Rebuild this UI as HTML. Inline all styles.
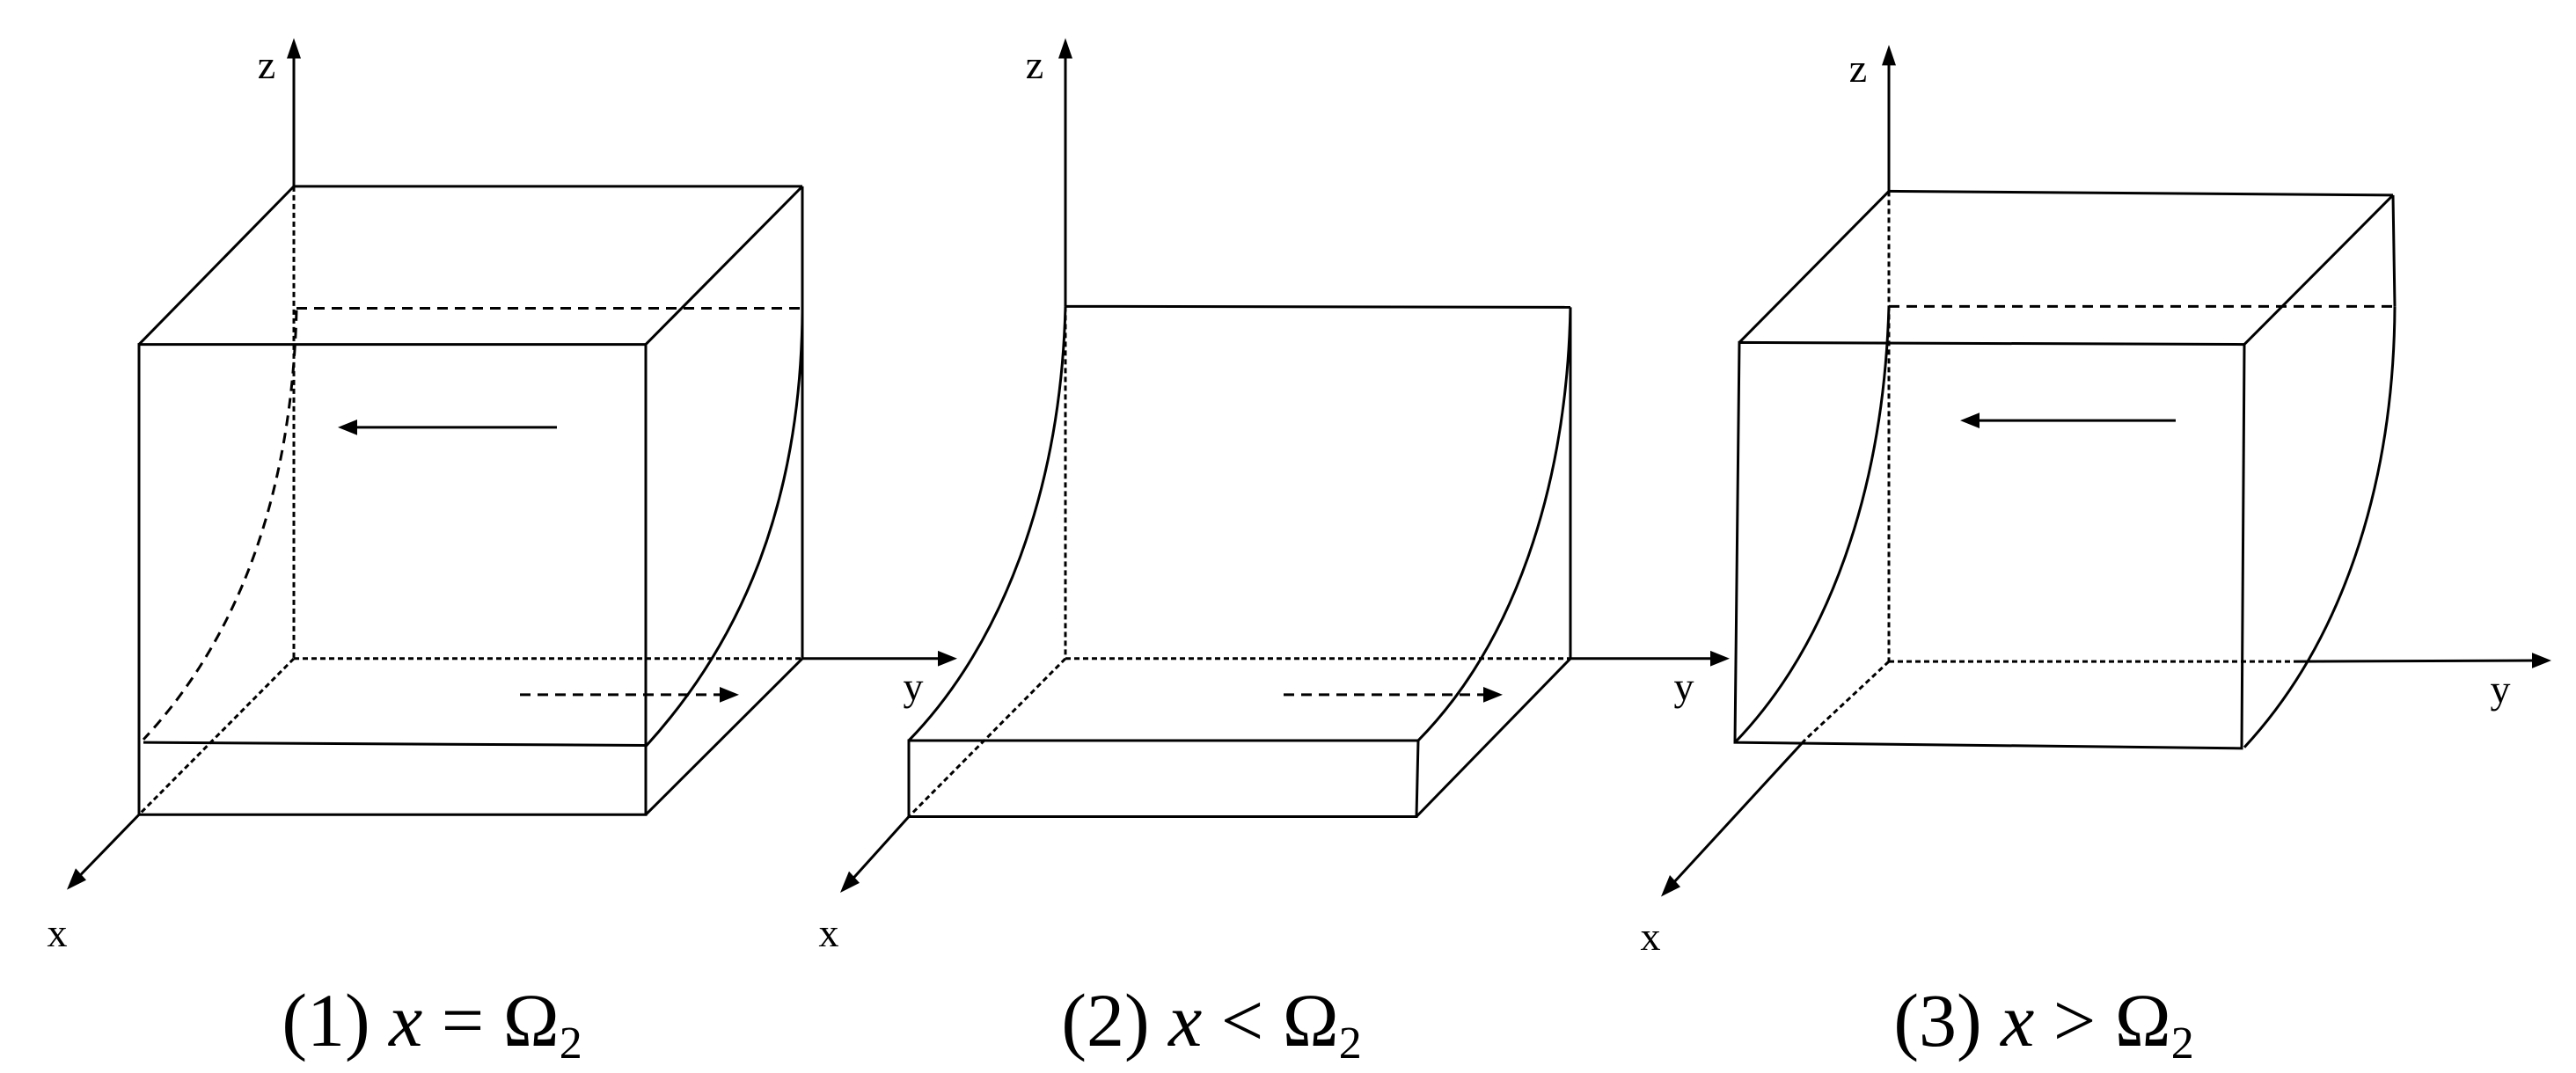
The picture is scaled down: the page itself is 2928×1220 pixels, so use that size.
<!DOCTYPE html>
<html><head><meta charset="utf-8"><style>
html,body{margin:0;padding:0;background:#fff;}
svg{display:block;}
text{font-family:"Liberation Serif",serif;fill:#000;}
path,line,polygon,rect{vector-effect:non-scaling-stroke;}
</style></head><body>
<svg width="2928" height="1220" viewBox="0 0 2928 1220" xmlns="http://www.w3.org/2000/svg">
<g transform="scale(1,1.1093)">
<g stroke="#000" stroke-width="3" fill="none" stroke-linecap="butt">
<!-- PANEL 1 -->
<line x1="334" y1="191" x2="334" y2="55"/>
<polygon points="334,39 326,60 342,60" fill="#000" stroke="none"/>
<line x1="334" y1="191" x2="912" y2="191"/>
<line x1="334" y1="191" x2="158" y2="353"/>
<line x1="912" y1="191" x2="734" y2="353"/>
<line x1="912" y1="191" x2="912" y2="675"/>
<rect x="158" y="353" width="576" height="482"/>
<line x1="912" y1="675" x2="734" y2="835"/>
<line x1="912" y1="675" x2="1070" y2="675"/>
<polygon points="1088,675 1066,667 1066,683" fill="#000" stroke="none"/>
<line x1="158" y1="835" x2="88" y2="900"/>
<polygon points="76,912 86,890 98,902" fill="#000" stroke="none"/>
<line x1="163" y1="761" x2="734" y2="764"/>
<path d="M912,320 C910,520 840,660 734,765"/>
<g stroke-dasharray="6,4">
<line x1="334" y1="191" x2="334" y2="675"/>
<line x1="334" y1="675" x2="912" y2="675"/>
<line x1="334" y1="675" x2="158" y2="835"/>
</g>
<g stroke-dasharray="12,8">
<line x1="337" y1="316" x2="912" y2="316"/>
<path d="M337,318 C332,500 275,650 163,758"/>
<line x1="591" y1="712" x2="822" y2="712"/>
</g>
<polygon points="840,712 818,704 818,720" fill="#000" stroke="none"/>
<line x1="633" y1="438" x2="400" y2="438"/>
<polygon points="384,438 406,430 406,446" fill="#000" stroke="none"/>

<!-- PANEL 2 -->
<line x1="1211" y1="314" x2="1211" y2="55"/>
<polygon points="1211,39 1203,60 1219,60" fill="#000" stroke="none"/>
<line x1="1211" y1="314" x2="1785" y2="315"/>
<line x1="1785" y1="315" x2="1785" y2="675"/>
<line x1="1785" y1="675" x2="1948" y2="675"/>
<polygon points="1966,675 1944,667 1944,683" fill="#000" stroke="none"/>
<path d="M1211,314 C1206,500 1140,660 1033,759"/>
<path d="M1785,315 C1781,500 1720,660 1612,759"/>
<polygon points="1033,759 1612,759 1610,837 1033,837"/>
<line x1="1610" y1="837" x2="1785" y2="675"/>
<line x1="1033" y1="837" x2="967" y2="903"/>
<polygon points="955,915 965,893 977,905" fill="#000" stroke="none"/>
<g stroke-dasharray="6,4">
<line x1="1211" y1="314" x2="1211" y2="675"/>
<line x1="1211" y1="675" x2="1785" y2="675"/>
<line x1="1211" y1="675" x2="1033" y2="837"/>
</g>
<line x1="1459" y1="712" x2="1690" y2="712" stroke-dasharray="12,8"/>
<polygon points="1708,712 1686,704 1686,720" fill="#000" stroke="none"/>

<!-- PANEL 3 -->
<line x1="2147" y1="196" x2="2147" y2="62"/>
<polygon points="2147,46 2139,67 2155,67" fill="#000" stroke="none"/>
<line x1="2147" y1="196" x2="2720" y2="200"/>
<line x1="2147" y1="196" x2="1977" y2="351"/>
<line x1="2720" y1="200" x2="2551" y2="353"/>
<line x1="2720" y1="200" x2="2722" y2="314"/>
<polygon points="1977,351 2551,353 2548,767 1972,761"/>
<path d="M2722,314 C2721,500 2660,660 2551,766"/>
<path d="M2147,314 C2141,500 2080,660 1972,761"/>
<line x1="2607" y1="678" x2="2882" y2="677"/>
<polygon points="2900,677 2878,669 2878,685" fill="#000" stroke="none"/>
<line x1="2052" y1="758" x2="1900" y2="907"/>
<polygon points="1888,919 1898,897 1910,909" fill="#000" stroke="none"/>
<g stroke-dasharray="6,4">
<line x1="2147" y1="196" x2="2147" y2="678"/>
<line x1="2147" y1="678" x2="2607" y2="678"/>
<line x1="2147" y1="678" x2="2052" y2="758"/>
</g>
<line x1="2147" y1="314" x2="2722" y2="314" stroke-dasharray="12,8"/>
<line x1="2473" y1="431" x2="2244" y2="431"/>
<polygon points="2228,431 2250,423 2250,439" fill="#000" stroke="none"/>
</g>
</g>

<g font-size="46">
<text x="303" y="89" text-anchor="middle">z</text>
<text x="1038" y="796" text-anchor="middle">y</text>
<text x="65" y="1076" text-anchor="middle">x</text>
<text x="1176" y="89" text-anchor="middle">z</text>
<text x="1914" y="796" text-anchor="middle">y</text>
<text x="942" y="1076" text-anchor="middle">x</text>
<text x="2112" y="93" text-anchor="middle">z</text>
<text x="2842" y="799" text-anchor="middle">y</text>
<text x="1876" y="1080" text-anchor="middle">x</text>
</g>
<g font-size="86">
<text x="491" y="1189" text-anchor="middle">(1) <tspan font-style="italic">x</tspan> = Ω<tspan font-size="52" dy="14">2</tspan></text>
<text x="1377" y="1189" text-anchor="middle">(2) <tspan font-style="italic">x</tspan> &lt; Ω<tspan font-size="52" dy="14">2</tspan></text>
<text x="2323" y="1189" text-anchor="middle">(3) <tspan font-style="italic">x</tspan> &gt; Ω<tspan font-size="52" dy="14">2</tspan></text>
</g>
</svg>
</body></html>
